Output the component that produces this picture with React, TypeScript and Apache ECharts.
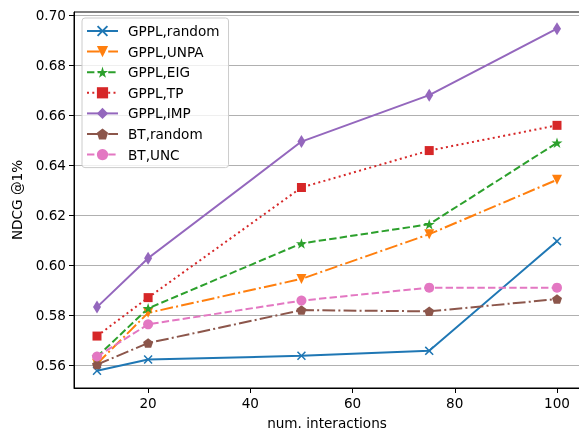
import React, { useEffect, useRef } from "react";
import * as echarts from "echarts";

const interactions = [10, 20, 50, 75, 100];
const gpplRandom = [0.5577, 0.5622, 0.5637, 0.5657, 0.6096];
const gpplUnpa = [0.5605, 0.5809, 0.5945, 0.6124, 0.6342];
const gpplEig = [0.5633, 0.5827, 0.6087, 0.6164, 0.649];
const gpplTp = [0.5716, 0.587, 0.6311, 0.6459, 0.656];
const gpplImp = [0.5832, 0.6028, 0.6495, 0.6681, 0.6947];
const btRandom = [0.5602, 0.5688, 0.582, 0.5815, 0.5864];
const btUnc = [0.5634, 0.5763, 0.5858, 0.591, 0.591];

const xTicks = [20, 40, 60, 80, 100];
const yTicks = [0.56, 0.58, 0.6, 0.62, 0.64, 0.66, 0.68, 0.7];

const FONT = "DejaVu Sans";
const FS = 13.6;

const X_PATH =
  "path://M1.2,0 L5,3.8 L8.8,0 L10,1.2 L6.2,5 L10,8.8 L8.8,10 L5,6.2 L1.2,10 L0,8.8 L3.8,5 L0,1.2 Z";
const STAR_PATH =
  "path://M50,0 L61.23,34.55 L97.55,34.55 L68.17,55.9 L79.39,90.45 L50,69.1 L20.61,90.45 L31.83,55.9 L2.45,34.55 L38.77,34.55 Z";
const PENT_PATH =
  "path://M50,0 L97.55,34.55 L79.39,90.45 L20.61,90.45 L2.45,34.55 Z";

const LW = 2;
const DASHED = [3.7 * LW, 1.6 * LW];
const DASHDOT = [6.4 * LW, 1.6 * LW, 1 * LW, 1.6 * LW];
const DOTTED = [1 * LW, 1.65 * LW];

function mk(
  name: string,
  values: number[],
  color: string,
  type: any,
  symbol: string,
  symbolSize: any,
  symbolRotate = 0
) {
  return {
    name,
    type: "line",
    data: interactions.map((x, i) => [x, values[i]]),
    symbol,
    symbolSize,
    symbolRotate,
    symbolKeepAspect: true,
    showSymbol: true,
    lineStyle: { color, width: LW, type },
    itemStyle: { color, borderColor: color, borderWidth: 0 },
    emphasis: { disabled: true },
  };
}

export default function App() {
  const ref = useRef<HTMLDivElement>(null);
  useEffect(() => {
    if (!ref.current) return;
    const chart = echarts.init(ref.current, undefined, { renderer: "svg" });
    chart.setOption({
      animation: false,
      textStyle: { fontFamily: FONT },
      grid: {
        left: 74,
        top: 12,
        right: -1,
        bottom: 42,
        outerBoundsMode: "none",
        containLabel: false,
        show: true,
        borderColor: "#000",
        borderWidth: 1,
        backgroundColor: "transparent",
      },
      legend: {
        orient: "vertical",
        left: 82,
        top: 18,
        padding: [6, 9, 6, 4],
        itemWidth: 31,
        itemHeight: 14,
        itemGap: 6.6,
        borderColor: "#cccccc",
        borderWidth: 1,
        borderRadius: 3,
        backgroundColor: "rgba(255,255,255,0.8)",
        textStyle: {
          fontFamily: FONT,
          fontSize: FS,
          color: "#000",
          padding: [0, 0, 0, 5],
          lineHeight: 14,
        },
        data: [
          "GPPL,random",
          "GPPL,UNPA",
          "GPPL,EIG",
          "GPPL,TP",
          "GPPL,IMP",
          "BT,random",
          "BT,UNC",
        ],
      },
      xAxis: {
        type: "value",
        min: 5.5,
        max: 104.5,
        name: "num. interactions",
        nameLocation: "middle",
        nameGap: 28,
        nameTextStyle: {
          fontFamily: FONT,
          fontSize: FS,
          color: "#000",
          lineHeight: 14,
        },
        axisLine: { show: true, lineStyle: { color: "#000", width: 1 } },
        axisTick: {
          show: true,
          length: 5,
          lineStyle: { color: "#000", width: 1 },
          customValues: xTicks,
        },
        axisLabel: {
          fontFamily: FONT,
          fontSize: FS,
          color: "#000",
          margin: 8,
          customValues: xTicks,
        },
        splitLine: { show: false },
      },
      yAxis: {
        type: "value",
        min: 0.5508,
        max: 0.7014,
        name: "NDCG @1%",
        nameLocation: "middle",
        nameGap: 50,
        nameTextStyle: { fontFamily: FONT, fontSize: FS, color: "#000" },
        axisLine: { show: true, lineStyle: { color: "#000", width: 1 } },
        axisTick: {
          show: true,
          length: 5,
          lineStyle: { color: "#000", width: 1 },
          customValues: yTicks,
        },
        axisLabel: {
          fontFamily: FONT,
          fontSize: FS,
          color: "#000",
          margin: 8,
          customValues: yTicks,
          formatter: (v: number) => v.toFixed(2),
        },
        splitLine: { show: true, lineStyle: { color: "#b0b0b0", width: 1 } },
      },
      series: [
        mk("GPPL,random", gpplRandom, "#1f77b4", "solid", X_PATH, 9),
        mk("GPPL,UNPA", gpplUnpa, "#ff7f0e", DASHDOT, "triangle", 10, 180),
        mk("GPPL,EIG", gpplEig, "#2ca02c", DASHED, STAR_PATH, 11),
        mk("GPPL,TP", gpplTp, "#d62728", DOTTED, "rect", 9),
        mk("GPPL,IMP", gpplImp, "#9467bd", "solid", "diamond", [8, 13]),
        mk("BT,random", btRandom, "#8c564b", DASHDOT, PENT_PATH, 10),
        mk("BT,UNC", btUnc, "#e377c2", DASHED, "circle", 10),
      ],
    });
    return () => chart.dispose();
  }, []);
  return (
    <div
      ref={ref}
      style={{ position: "fixed", left: 0, top: 0, width: 579, height: 430 }}
    />
  );
}
